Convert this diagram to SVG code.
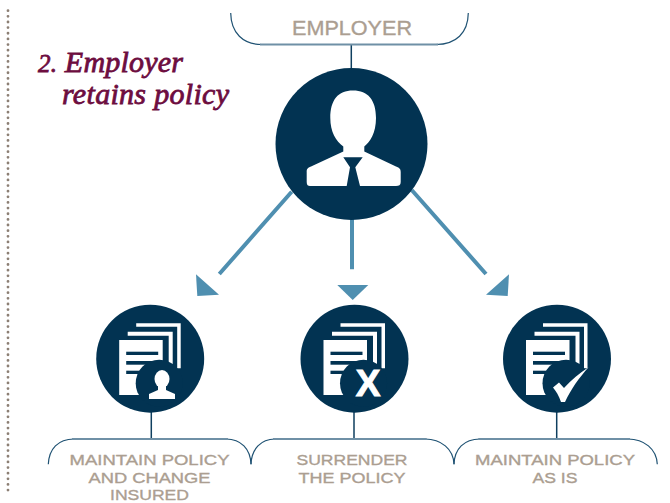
<svg xmlns="http://www.w3.org/2000/svg" width="670" height="503" viewBox="0 0 670 503">
<style>
.disc{fill:#023352}
.w{fill:#fff}
.bar{fill:#023352}
.lbl{font-family:"Liberation Sans",Arial,sans-serif;font-weight:normal;fill:#ab9e91;stroke:#ab9e91;stroke-width:.35;text-anchor:middle}
.sm{font-size:15.500px}
.ttl{font-family:"Liberation Serif",serif;font-style:italic;font-weight:normal;font-size:30px;fill:#6d0d3f;stroke:#6d0d3f;stroke-width:.8}
.brace{fill:none;stroke:#1f5273;stroke-width:1.2}
.flat{fill:none;stroke:#6f90a6;stroke-width:1.8}
.stem{stroke:#0f3f5f;stroke-width:1.5;fill:none}
.arr{stroke:#4f8fb0;stroke-width:4;fill:none}
.head{fill:#4f8fb0}
</style>
<defs>
<g id="docs">
<circle class="disc" r="54"/>
<path class="w" d="M-14-35.400H30.500V9.500H27V-32H-14Z"/>
<path class="w" d="M-22.500-27H22.500V6H18.500V-23H-22.500Z"/>
<path class="w" d="M-31-18.700H12.500V36.300H-31Z"/>
<rect class="bar" x="-24" y="-7" width="32" height="3.300"/>
<rect class="bar" x="-24" y="2.300" width="27" height="3.700"/>
<rect class="bar" x="-24" y="12" width="14" height="3.300"/>
<circle class="disc" cx="9" cy="24.500" r="23.500"/>
</g>
</defs>

<line x1="8" y1="10.700" x2="8" y2="492" stroke="#8c7f74" stroke-width="2.800" stroke-linecap="round" stroke-dasharray="0 5.640"/>

<g id="connectors">
<path class="stem" d="M351.300 45V70M151.300 410V439M354 410V439M556.700 410V439"/>
<path class="arr" d="M291.700 191.700L219.300 274M352 215V269.300M411.700 190L486 274"/>
<polygon class="head" points="196,274.300 197.300,296 219,294.700"/>
<polygon class="head" points="337.300,285 368.300,285 352.700,300"/>
<polygon class="head" points="509,274.300 507.700,296 486,294.700"/>
</g>

<g id="title">
<text class="ttl" x="38" y="72" textLength="145"><tspan font-size="25">2.</tspan> Employer</text>
<text class="ttl" x="62" y="104" textLength="167">retains policy</text>
</g>

<g id="employer">
<path class="brace" d="M230.700 13C231 33 243 44.500 262 44.500M436 44.500C456 44.500 468 33 468.300 13"/>
<path class="flat" d="M260 44.500H438"/>
<text class="lbl" x="352" y="35" font-size="21" textLength="120" lengthAdjust="spacingAndGlyphs">EMPLOYER</text>
<circle class="disc" cx="351.500" cy="144" r="76"/>
<path class="w" d="M353 90.500C368 90.500 376 100 376 118C376 133 370 142 364.300 146.500V151.500L396 166.500C399.500 168 400.700 169 400.700 172V182C400.700 185 399 186 396 186H310C308 186 306.700 185 306.700 182V172C306.700 169 307.500 168 311 166.500L343.300 151.500V146.500C336 141 330.300 132 330.300 118C330.300 100 338 90.500 353 90.500Z"/>
<polygon class="disc" points="343.300,157.300 362.700,157.300 355.300,167.300 360,186 346.700,186 350,167.300"/>
</g>

<g id="option-change-insured">
<use href="#docs" x="150.200" y="358.700"/>
<ellipse class="w" cx="162" cy="379" rx="7.500" ry="9"/>
<path class="w" d="M158 386V390L149 394V399H175V394L166 390V386Z"/>
<path class="brace" d="M48.300 464.300C49 449 58 439 74 439M226 439C241 439 250.500 449 251 464.300"/>
<path class="flat" d="M72 439H228"/>
<text class="lbl sm" x="149.500" y="464.500" textLength="160" lengthAdjust="spacingAndGlyphs">MAINTAIN POLICY</text>
<text class="lbl sm" x="149.500" y="482.500" textLength="122" lengthAdjust="spacingAndGlyphs">AND CHANGE</text>
<text class="lbl sm" x="149.500" y="499.600" textLength="79" lengthAdjust="spacingAndGlyphs">INSURED</text>
</g>

<g id="option-surrender">
<use href="#docs" x="354.500" y="358.700"/>
<text x="368" y="395.700" font-family="Liberation Sans,sans-serif" font-weight="bold" font-size="37" fill="#fff" stroke="#fff" stroke-width="1" text-anchor="middle">X</text>
<path class="brace" d="M251 464.300C251.500 449 261 439 275 439M425 439C441 439 453.500 449 454 464.300"/>
<path class="flat" d="M273 439H426.700"/>
<text class="lbl sm" x="352" y="464.500" textLength="111" lengthAdjust="spacingAndGlyphs">SURRENDER</text>
<text class="lbl sm" x="352" y="482.500" textLength="107" lengthAdjust="spacingAndGlyphs">THE POLICY</text>
</g>

<g id="option-as-is">
<use href="#docs" x="557" y="358.700"/>
<path class="w" d="M553 387.500L559 382.500L564 388C571 380 580 373 588.500 367.200C579 378 571 389 565 402H561C559 396 556 391 553 387.500Z"/>
<path class="brace" d="M454 464.300C454.500 449 464 439 480 439M628 439C644 439 656.700 449 657.300 464.300"/>
<path class="flat" d="M478.300 439H630"/>
<text class="lbl sm" x="555" y="464.500" textLength="160" lengthAdjust="spacingAndGlyphs">MAINTAIN POLICY</text>
<text class="lbl sm" x="555" y="482.500" textLength="45" lengthAdjust="spacingAndGlyphs">AS IS</text>
</g>
</svg>
